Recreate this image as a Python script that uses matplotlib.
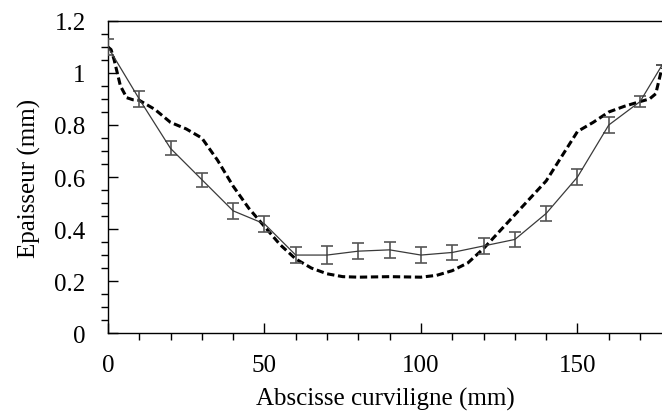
import numpy as np
import matplotlib
matplotlib.use('Agg')
from matplotlib import pyplot as plt
from matplotlib.ticker import MultipleLocator, FixedLocator

# measured thickness (mean +/- error) along the curvilinear abscissa
x_mes = [0, 10, 20, 30, 40, 50, 60, 70, 80, 90, 100, 110, 120, 130, 140, 150, 160, 170, 177]
ep_mes = [1.10, 0.90, 0.71, 0.59, 0.47, 0.42, 0.30, 0.30, 0.315, 0.32, 0.30, 0.31, 0.335, 0.36, 0.46, 0.60, 0.80, 0.89, 1.03]
err_mes = [0.03, 0.03, 0.027, 0.027, 0.03, 0.03, 0.03, 0.035, 0.03, 0.03, 0.03, 0.03, 0.03, 0.03, 0.03, 0.03, 0.03, 0.02, 0.0]

# simulated thickness (dashed)
x_sim = [0, 1, 2, 3, 4, 6, 8, 10, 15, 20, 25, 30, 35, 40, 45, 50, 55, 60, 65, 70, 75, 80, 90,
         100, 105, 110, 115, 120, 125, 130, 135, 140, 145, 150, 155, 160, 165, 170, 173, 175, 177]
ep_sim = [1.10, 1.09, 1.05, 1.00, 0.95, 0.905, 0.897, 0.895, 0.86, 0.81, 0.785, 0.75, 0.665, 0.565, 0.48,
          0.41, 0.34, 0.285, 0.25, 0.228, 0.217, 0.215, 0.217, 0.215, 0.222, 0.24, 0.27, 0.325, 0.39,
          0.455, 0.52, 0.585, 0.68, 0.775, 0.81, 0.85, 0.872, 0.89, 0.90, 0.92, 1.02]

yticks = [0, 0.2, 0.4, 0.6, 0.8, 1, 1.2]
ylabels = ['0', '0.2', '0.4', '0.6', '0.8', '1', '1.2']

plt.rcParams['font.family'] = 'Liberation Serif'
fig = plt.figure(figsize=(6.62, 4.14), dpi=100)
ax = fig.add_axes([0.163, 0.193, 0.837, 0.754])

ax.plot(x_sim, ep_sim, color='black', lw=2.2, dashes=(2.4, 1.2), zorder=2)
ax.errorbar(x_mes, ep_mes, yerr=err_mes, color='#3a3a3a', lw=0.9, elinewidth=1.2,
            ecolor='#555555', capsize=4.5, capthick=1.2, zorder=3)

ax.set_xlim(0, 177)
ax.set_ylim(0, 1.2)
ax.xaxis.set_major_locator(FixedLocator([0, 50, 100, 150]))
ax.xaxis.set_minor_locator(MultipleLocator(10))
ax.set_yticks(yticks)
ax.set_yticklabels(ylabels)
ax.yaxis.set_minor_locator(MultipleLocator(0.05))

ax.tick_params(which='major', direction='in', length=7, width=1, labelsize=18, pad=15)
ax.tick_params(which='minor', direction='out', length=5, width=1)
ax.tick_params(axis='y', which='major', pad=16)
ax.spines['right'].set_visible(False)
for s in ['left', 'bottom', 'top']:
    ax.spines[s].set_linewidth(1)

ax.set_xlabel('Abscisse curviligne (mm)', fontsize=18, labelpad=8)
ax.set_ylabel('Epaisseur (mm)', fontsize=18, labelpad=10)

fig.savefig('out.png', dpi=100)
